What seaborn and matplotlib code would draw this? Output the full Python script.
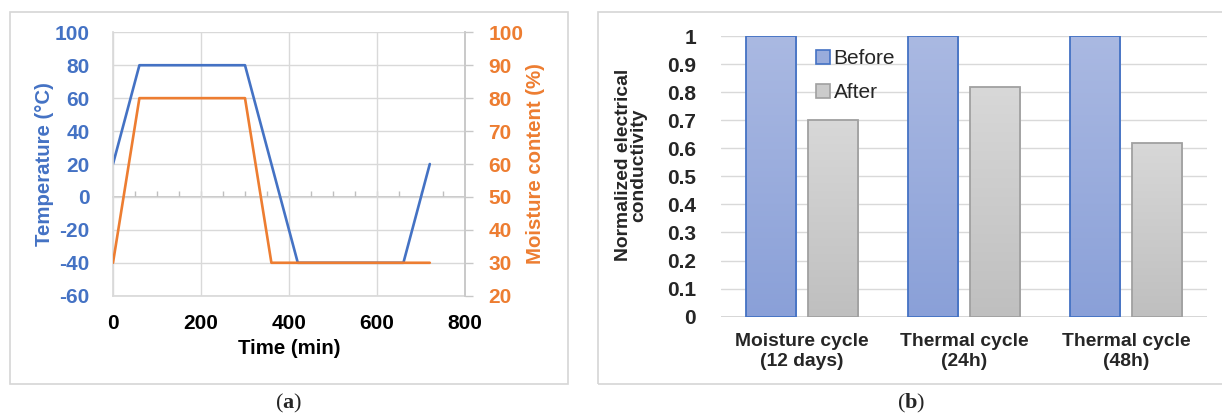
import numpy as np
import pandas as pd
import matplotlib
matplotlib.use("Agg")
import matplotlib.pyplot as plt
from matplotlib.patches import Rectangle, Patch
from matplotlib.colors import LinearSegmentedColormap
import seaborn as sns

# ---- data -------------------------------------------------------------
temp_time = [0, 60, 300, 420, 660, 720]          # min
temp_value = [20, 80, 80, -40, -40, 20]          # °C
moist_time = [0, 60, 300, 360, 720]              # min
moist_value = [30, 80, 80, 30, 30]               # %

cycles = ["Moisture cycle\n(12 days)", "Thermal cycle\n(24h)", "Thermal cycle\n(48h)"]
before = [1.0, 1.0, 1.0]
after = [0.70, 0.82, 0.62]

# ---- style ------------------------------------------------------------
sns.set_theme(style="white")
plt.rcParams["font.family"] = ["Liberation Sans", "DejaVu Sans"]
plt.rcParams["axes.unicode_minus"] = False
plt.rcParams["mathtext.fontset"] = "custom"
plt.rcParams["mathtext.rm"] = "Liberation Serif"
plt.rcParams["mathtext.bf"] = "Liberation Serif:bold"

BLUE = "#4472c4"
ORANGE = "#ed7d31"
GRID = "#d9d9d9"
FS = 15          # tick labels
FL = 14.7        # axis labels (a)
FB = 13.9        # category labels / axis label (b)

W, H = 1222, 419
fig = plt.figure(figsize=(W / 100, H / 100), dpi=100)


def px_rect(x0, y0, x1, y1):
    """Figure-fraction rectangle from pixel corners (top-left origin)."""
    return [x0 / W, 1 - y1 / H, (x1 - x0) / W, (y1 - y0) / H]


# panel frames
for x0, x1 in [(10, 568), (598, 1240)]:
    r = px_rect(x0, 12, x1, 384)
    fig.add_artist(Rectangle((r[0], r[1]), r[2], r[3], transform=fig.transFigure,
                             fill=False, edgecolor="#d6d6d6", linewidth=1.2))

# ---- (a) temperature / moisture profile -------------------------------
ax = fig.add_axes(px_rect(113, 32.3, 465, 295.7))
ax2 = ax.twinx()

sns.lineplot(x=temp_time, y=temp_value, ax=ax, color=BLUE, linewidth=1.9)
sns.lineplot(x=moist_time, y=moist_value, ax=ax2, color=ORANGE, linewidth=1.9)

ax.set_xlim(0, 800)
ax.set_ylim(-60, 100)
ax2.set_ylim(20, 100)
ax.set_xticks(np.arange(0, 801, 200))
ax.set_yticks(np.arange(-60, 101, 20))
ax2.set_yticks(np.arange(20, 101, 10))

ax.grid(True, color=GRID, linewidth=1.0)
ax.set_axisbelow(True)
for s in ["left", "bottom", "right"]:
    ax.spines[s].set_color(GRID)
ax.spines["top"].set_visible(False)
for s in ["left", "bottom", "top"]:
    ax2.spines[s].set_visible(False)
ax2.spines["right"].set_color("#c8c8c8")

ax.tick_params(axis="y", length=0, pad=17, labelcolor=BLUE, labelsize=FS)
ax.tick_params(axis="x", length=0, pad=13, labelcolor="black", labelsize=FS)
ax2.tick_params(axis="y", length=6, width=1, color="#c8c8c8", pad=11,
                labelcolor=ORANGE, labelsize=FS)
for lab in ax.get_xticklabels() + ax.get_yticklabels() + ax2.get_yticklabels():
    lab.set_fontweight("bold")

# zero line with minor ticks
zero = ax.secondary_xaxis((0 + 60) / 160)
zero.set_xticks(np.arange(50, 800, 50))
zero.tick_params(direction="in", length=4, width=1, color="#bfbfbf", labelbottom=False)
zero.spines["bottom"].set_color("#bfbfbf")
zero.spines["bottom"].set_linewidth(1.2)

ax.set_xlabel("Time (min)", fontsize=FL, fontweight="bold", color="black")
ax.set_ylabel("Temperature (°C)", fontsize=FL, fontweight="bold", color=BLUE)
ax2.set_ylabel("Moisture content (%)", fontsize=FL, fontweight="bold", color=ORANGE)
ax.xaxis.label.set_va("center")
ax.yaxis.label.set_va("center")
ax2.yaxis.label.set_va("center")
ax.xaxis.set_label_coords(0.5, -0.199)
ax.yaxis.set_label_coords(-0.196, 0.5)
ax2.yaxis.set_label_coords(1.199, 0.5)

# ---- (b) normalized conductivity ---------------------------------------
bx = fig.add_axes(px_rect(721, 36, 1207, 316.7))
df = pd.DataFrame({
    "cycle": cycles * 2,
    "stage": ["Before"] * len(cycles) + ["After"] * len(cycles),
    "value": before + after,
})
sns.barplot(data=df, x="cycle", y="value", hue="stage", ax=bx,
            palette={"Before": "#99acdc", "After": "#cbcbcb"},
            width=0.76, gap=0.18, legend=False, linewidth=1.3,
            edgecolor="none")

bx.set_xlim(-0.5, 2.5)
bx.set_ylim(0, 1.0)
bx.set_yticks(np.round(np.arange(0, 1.01, 0.1), 1))
bx.set_yticklabels(["0"] + [f"{v:.1f}" for v in np.arange(0.1, 0.95, 0.1)] + ["1"])
bx.yaxis.grid(True, color=GRID, linewidth=1.0)
bx.set_axisbelow(True)
for s in bx.spines.values():
    s.set_visible(False)
bx.axhline(0, color="#d0d0d0", linewidth=1.2, zorder=0.5)
bx.tick_params(axis="y", length=0, pad=18, labelsize=FS)
bx.tick_params(axis="x", length=0, pad=12, labelsize=FB)
for lab in bx.get_xticklabels() + bx.get_yticklabels():
    lab.set_fontweight("bold")
bx.set_xlabel("")
bx.set_ylabel("Normalized electrical\nconductivity", fontsize=FB, fontweight="bold",
              linespacing=0.9)
bx.yaxis.label.set_va("center")
bx.yaxis.set_label_coords(-0.185, 0.54)

styles = [("#8aa0d8", "#aab9e2", BLUE), ("#bfbfbf", "#d8d8d8", "#a0a0a0")]
for cont, (bottom_c, top_c, edge_c) in zip(bx.containers, styles):
    cmap = LinearSegmentedColormap.from_list("grad", [bottom_c, top_c])
    for patch in cont.patches:
        x0, y0 = patch.get_x(), patch.get_y()
        w, h = patch.get_width(), patch.get_height()
        im = bx.imshow(np.linspace(0, 1, 256).reshape(-1, 1), cmap=cmap,
                       extent=(x0, x0 + w, y0, y0 + h), origin="lower",
                       aspect="auto", zorder=1.5, interpolation="bilinear")
        im.set_clip_path(patch)
        patch.set_facecolor("none")
        patch.set_edgecolor(edge_c)
        patch.set_zorder(2)
bx.set_xlim(-0.5, 2.5)
bx.set_ylim(0, 1.0)

handles = [Patch(facecolor="#99acdc", edgecolor=BLUE, linewidth=1.2, label="Before"),
           Patch(facecolor="#cbcbcb", edgecolor="#a0a0a0", linewidth=1.2, label="After")]
bx.legend(handles=handles, loc="upper left", bbox_to_anchor=(816 / W, 1 - 49 / H),
          bbox_transform=fig.transFigure, frameon=False, fontsize=FS,
          handlelength=0.65, handleheight=0.65, handletextpad=0.2,
          labelspacing=0.72, borderaxespad=0, borderpad=0)

# ---- panel captions ---------------------------------------------------
fig.text(289 / W, 1 - 403 / H, r"($\mathbf{a}$)", ha="center", va="center",
         fontsize=16, family="Liberation Serif")
fig.text(911 / W, 1 - 403 / H, r"($\mathbf{b}$)", ha="center", va="center",
         fontsize=16, family="Liberation Serif")

fig.savefig("out.png", dpi=100)
